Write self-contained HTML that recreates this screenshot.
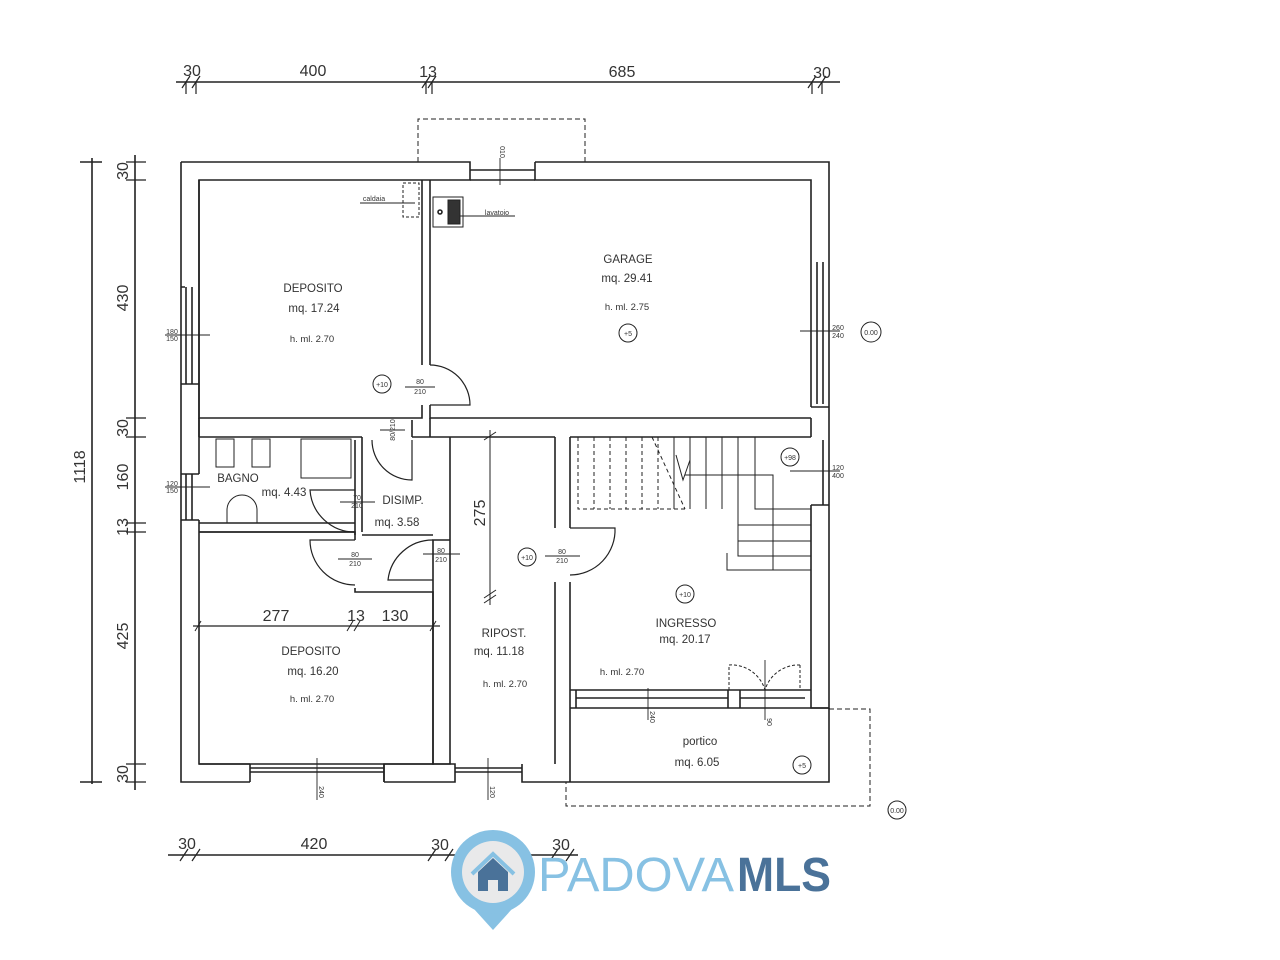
<!DOCTYPE html>
<html><head><meta charset="utf-8"><style>
html,body{margin:0;padding:0;background:#fff;}
svg{display:block}
text{font-family:"Liberation Sans",sans-serif;fill:#333}
</style></head><body>
<svg width="1280" height="960" viewBox="0 0 1280 960" xmlns="http://www.w3.org/2000/svg">
<rect width="1280" height="960" fill="#fff"/>
<g stroke="#222" stroke-width="1.6" fill="none">
<!-- top dimension -->
<line x1="176" y1="82" x2="840" y2="82"/>
<g stroke-width="1.2">
<line x1="182" y1="88" x2="190" y2="76"/><line x1="192" y1="88" x2="200" y2="76"/>
<line x1="422" y1="88" x2="430" y2="76"/><line x1="428" y1="88" x2="436" y2="76"/>
<line x1="808" y1="88" x2="816" y2="76"/><line x1="818" y1="88" x2="826" y2="76"/>
<line x1="186" y1="82" x2="186" y2="94"/><line x1="196" y1="82" x2="196" y2="94"/>
<line x1="426" y1="82" x2="426" y2="94"/><line x1="432" y1="82" x2="432" y2="94"/>
<line x1="812" y1="82" x2="812" y2="94"/><line x1="822" y1="82" x2="822" y2="94"/>
</g>
<!-- left dimensions -->
<line x1="92" y1="158" x2="92" y2="784"/>
<line x1="80" y1="162" x2="102" y2="162"/><line x1="80" y1="782" x2="102" y2="782"/>
<line x1="135" y1="155" x2="135" y2="790"/>
<g stroke-width="1.2">
<line x1="126" y1="162" x2="146" y2="162"/><line x1="126" y1="180" x2="146" y2="180"/>
<line x1="126" y1="418" x2="146" y2="418"/><line x1="126" y1="437" x2="146" y2="437"/>
<line x1="126" y1="523" x2="146" y2="523"/><line x1="126" y1="532" x2="146" y2="532"/>
<line x1="126" y1="764" x2="146" y2="764"/><line x1="126" y1="782" x2="146" y2="782"/>
</g>
<!-- bottom dimension -->
<line x1="168" y1="855" x2="578" y2="855"/>
<g stroke-width="1.2">
<line x1="180" y1="861" x2="188" y2="849"/><line x1="192" y1="861" x2="200" y2="849"/>
<line x1="428" y1="861" x2="436" y2="849"/><line x1="445" y1="861" x2="453" y2="849"/>
<line x1="550" y1="861" x2="558" y2="849"/><line x1="566" y1="861" x2="574" y2="849"/>
</g>
<!-- dashed balcony top -->
<path d="M418 162 V119 H585 V162" stroke-dasharray="5 3" stroke-width="1"/>
<!-- portico dashed -->
<path d="M829 709 H870 V806 H566 V782" stroke-dasharray="5 3" stroke-width="1"/>

<!-- outer walls -->
<path d="M181 162 H470 V180 H199 V287" />
<path d="M535 162 H829 V258 M811 258 V180 H535 V162"/>
<path d="M470 180 H535 M470 170 H535"/>
<path d="M181 162 V782 H250 M199 287 V384 M181 287 H185 M181 384 H199 V474 M199 520 V764 H250 M181 474 H199 M181 520 H199"/>
<path d="M186 287 V384 M192 287 V384 M186 474 V520 M192 474 V520"/>
<path d="M250 764 V782 M384 764 V782 M250 772 H384 M250 768 H384"/>
<path d="M384 782 H455 V764 H384 V782"/>
<path d="M522 764 V782 H570 M455 772 H522 M455 768 H522"/>
<!-- right wall -->
<path d="M829 258 V407 M811 258 V407 M817 262 V404 M823 262 V404 M811 407 H829 V437 M811 437 V418"/>
<path d="M829 437 V505 M823 440 V505 M811 505 H829 V708 H811 V505"/>
<!-- garage interior -->
<path d="M430 180 V365 M430 405 V418 H811 M422 180 V365 M422 405 V418 H199 V180"/>
<path d="M199 418 V437 M199 437 H362 M412 437 H430 V418 M430 437 H450 M450 437 V592 M450 437 H555 M555 437 V528 M555 582 V764 M570 437 V528 M570 582 V690 M570 437 H811 M450 588 V764 H433 V588"/>
<path d="M362 437 V440 M362 437 V515 M355 440 V515 M412 437 V420"/>
<!-- bagno -->
<path d="M199 523 H355 V532 H199 M355 515 V535 M362 515 V532"/>
<!-- deposito bottom -->
<path d="M199 532 H355 V540 M355 588 V592 H433 V764 H199"/>
<path d="M433 588 V540 H450"/>
<!-- disimp walls -->
<path d="M362 535 H433"/>
<!-- ingresso bottom / portico -->
<path d="M570 690 H811 M576 690 V708 M570 708 H829 M570 690 V782 M570 782 H829 V708 M728 690 V708 H740 V690"/>
<path d="M576 698 H728 M740 698 H805"/>
<!-- doors -->
<path d="M430 365 A40 40 0 0 1 470 405 H430" stroke-width="1.2"/>
<path d="M412 440 V480 A40 40 0 0 1 372 440" stroke-width="1.2"/>
<path d="M355 532 A45 45 0 0 1 310 490 H355" stroke-width="1.2"/>
<path d="M355 540 H310 A45 45 0 0 0 355 585" stroke-width="1.2"/>
<path d="M433 540 A45 45 0 0 0 388 580 H433" stroke-width="1.2"/>
<path d="M570 528 H615 A45 45 0 0 1 570 575" stroke-width="1.2"/>
<!-- fixtures -->
<rect x="403" y="183" width="16" height="34" stroke-dasharray="3 2" stroke-width="1"/>
<rect x="433" y="197" width="30" height="30" stroke-width="1"/>
<rect x="448" y="200" width="12" height="24" fill="#333" stroke-width="1"/>
<circle cx="440" cy="212" r="2"/>
<rect x="216" y="439" width="18" height="28" stroke-width="1"/>
<rect x="252" y="439" width="18" height="28" stroke-width="1"/>
<rect x="301" y="439" width="50" height="39" stroke-width="1"/>
<path d="M227 523 V510 A15 15 0 0 1 257 510 V523" stroke-width="1"/>
<path d="M729 690 V665 M729 665 A35 35 0 0 1 765 690 M800 665 V690 M800 665 A35 35 0 0 0 765 690" stroke-dasharray="3 2" stroke-width="1"/>
<!-- stairs -->
<g stroke-width="1" stroke-dasharray="4 3">
<path d="M578 437 V509 H685 M594 437 V509 M610 437 V509 M626 437 V509 M642 437 V509 M658 437 V509"/>
</g>
<g stroke-width="1">
<path d="M674 437 V509 M690 437 V509 M706 437 V509 M722 437 V509 M738 437 V509 M755 437 V509 L811 509 M738 509 V556 H811 M738 525 H811 M738 541 H811 M727 553 V570 H811 M773 509 V570 M685 475 H773 V509 M676 455 L683 480 L690 460"/>
<path d="M652 437 L685 509" stroke-dasharray="4 3"/>
</g>
<!-- 275 dimension -->
<line x1="490" y1="430" x2="490" y2="605" stroke-width="1"/>
<line x1="484" y1="440" x2="496" y2="432" stroke-width="1"/>
<line x1="484" y1="598" x2="496" y2="590" stroke-width="1"/>
<line x1="484" y1="603" x2="496" y2="595" stroke-width="1"/>
<!-- internal dim 277/13/130 -->
<line x1="193" y1="626" x2="440" y2="626" stroke-width="1.2"/>
<g stroke-width="1">
<line x1="195" y1="631" x2="201" y2="621"/><line x1="347" y1="631" x2="353" y2="621"/><line x1="354" y1="631" x2="360" y2="621"/><line x1="430" y1="631" x2="436" y2="621"/>
</g>
<!-- window tick lines -->
<g stroke-width="0.9">
<line x1="165" y1="335" x2="210" y2="335"/><line x1="165" y1="487" x2="210" y2="487"/>
<line x1="800" y1="331" x2="840" y2="331"/><line x1="790" y1="471" x2="840" y2="471"/>
<line x1="500" y1="158" x2="500" y2="185"/><line x1="317" y1="758" x2="317" y2="800"/>
<line x1="488" y1="758" x2="488" y2="800"/><line x1="648" y1="688" x2="648" y2="720"/>
<line x1="765" y1="660" x2="765" y2="720"/>
<line x1="405" y1="387" x2="435" y2="387"/><line x1="340" y1="502" x2="375" y2="502"/>
<line x1="338" y1="559" x2="372" y2="559"/><line x1="423" y1="554" x2="460" y2="554"/>
<line x1="545" y1="556" x2="580" y2="556"/><line x1="380" y1="430" x2="405" y2="430"/>
<line x1="360" y1="203" x2="415" y2="203"/><line x1="460" y1="216" x2="515" y2="216"/>
</g>
<!-- level circles -->
<g stroke-width="1">
<circle cx="382" cy="384" r="9"/><circle cx="628" cy="333" r="9"/><circle cx="527" cy="557" r="9"/>
<circle cx="685" cy="594" r="9"/><circle cx="790" cy="457" r="9"/><circle cx="802" cy="765" r="9"/>
<circle cx="871" cy="332" r="10"/><circle cx="897" cy="810" r="9"/>
</g>
</g>
<!-- dimension texts -->
<g font-size="16" text-anchor="middle">
<text x="192" y="76">30</text><text x="313" y="76">400</text><text x="428" y="77">13</text><text x="622" y="77">685</text><text x="822" y="78">30</text>
<text x="187" y="849">30</text><text x="314" y="849">420</text><text x="440" y="850">30</text><text x="500" y="850" fill="#999">187</text><text x="561" y="850">30</text>
<text x="276" y="621">277</text><text x="356" y="621">13</text><text x="395" y="621">130</text>
</g>
<g font-size="16" text-anchor="middle">
<text transform="translate(85,467) rotate(-90)">1118</text>
<text transform="translate(128,171) rotate(-90)">30</text>
<text transform="translate(128,298) rotate(-90)">430</text>
<text transform="translate(128,428) rotate(-90)">30</text>
<text transform="translate(128,477) rotate(-90)">160</text>
<text transform="translate(128,527) rotate(-90)">13</text>
<text transform="translate(128,636) rotate(-90)">425</text>
<text transform="translate(128,774) rotate(-90)">30</text>
<text transform="translate(485,513) rotate(-90)">275</text>
</g>
<!-- room labels -->
<g font-size="11.5" text-anchor="middle">
<text x="313" y="292">DEPOSITO</text><text x="314" y="312">mq.  17.24</text><text x="312" y="342" font-size="9.5">h.  ml.  2.70</text>
<text x="628" y="263">GARAGE</text><text x="627" y="282">mq.  29.41</text><text x="627" y="310" font-size="9.5">h.  ml.  2.75</text>
<text x="238" y="482">BAGNO</text><text x="284" y="496">mq.  4.43</text>
<text x="403" y="504">DISIMP.</text><text x="397" y="526">mq.  3.58</text>
<text x="311" y="655">DEPOSITO</text><text x="313" y="675">mq.  16.20</text><text x="312" y="702" font-size="9.5">h.  ml.  2.70</text>
<text x="504" y="637">RIPOST.</text><text x="499" y="655">mq.  11.18</text><text x="505" y="687" font-size="9.5">h.  ml.  2.70</text>
<text x="686" y="627">INGRESSO</text><text x="685" y="643">mq.  20.17</text><text x="622" y="675" font-size="9.5">h.  ml.  2.70</text>
<text x="700" y="745">portico</text><text x="697" y="766">mq.  6.05</text>
</g>
<g font-size="7" text-anchor="middle">
<text x="382" y="387">+10</text><text x="628" y="336">+5</text><text x="527" y="560">+10</text><text x="685" y="597">+10</text>
<text x="790" y="460">+98</text><text x="802" y="768">+5</text><text x="871" y="335">0.00</text><text x="897" y="813">0.00</text>
<text x="172" y="334">180</text><text x="172" y="341">150</text><text x="172" y="486">120</text><text x="172" y="493">150</text>
<text x="838" y="330">260</text><text x="838" y="338">240</text><text x="838" y="470">120</text><text x="838" y="478">400</text>
<text x="420" y="384">80</text><text x="420" y="394">210</text><text x="357" y="500">70</text><text x="357" y="508">210</text>
<text x="355" y="557">80</text><text x="355" y="566">210</text><text x="441" y="553">80</text><text x="441" y="562">210</text>
<text x="562" y="554">80</text><text x="562" y="563">210</text>
<text x="374" y="201">caldaia</text><text x="497" y="215">lavatoio</text>
</g>
<g font-size="7" text-anchor="middle">
<text transform="translate(395,430) rotate(-90)">80/210</text>
<text transform="translate(500,152) rotate(90)">010</text>
<text transform="translate(319,792) rotate(90)">240</text>
<text transform="translate(490,792) rotate(90)">120</text>
<text transform="translate(650,717) rotate(90)">240</text>
<text transform="translate(767,722) rotate(90)">90</text>
</g>
<!-- logo -->
<g>
<path d="M455 888 L493 930 L531 888 Z" fill="#87c1e3"/>
<circle cx="493" cy="872" r="42" fill="#87c1e3"/>
<circle cx="493" cy="872" r="31" fill="#e9e9ea"/>
<path d="M472 874 L493 854 L514 874" stroke="#87c1e3" stroke-width="4" fill="none"/>
<path d="M478 872 L493 858 L508 872 V891 H498 V880 H488 V891 H478 Z" fill="#4a7299"/>
<text x="538" y="891" font-size="48" fill="#87c1e3" style="fill:#87c1e3;font-weight:300" textLength="196" lengthAdjust="spacingAndGlyphs">PADOVA</text>
<text x="737" y="891" font-size="48" font-weight="bold" style="fill:#4a7299" textLength="94" lengthAdjust="spacingAndGlyphs">MLS</text>
</g>
</svg>
</body></html>
